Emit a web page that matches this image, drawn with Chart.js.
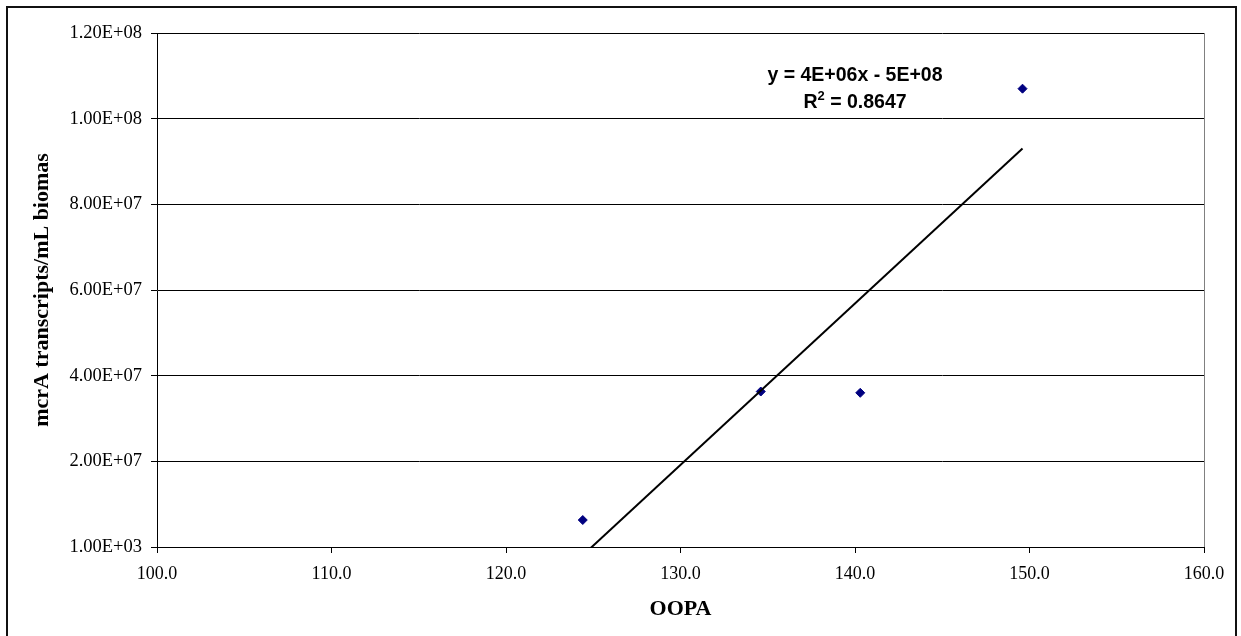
<!DOCTYPE html>
<html>
<head>
<meta charset="utf-8">
<script src="https://cdn.jsdelivr.net/npm/chart.js@4/dist/chart.umd.min.js"></script>
<style>
  html, body { margin: 0; padding: 0; background: #fff; }
  canvas { display: block; }
</style>
</head>
<body>
<canvas id="chart" width="1241" height="636"></canvas>
<script>
// OOPA vs mcrA transcripts
const oopa = [124.4, 134.6, 140.3, 149.6];
const mcra = [6.3e6, 3.63e7, 3.6e7, 1.07e8];

const xTicks = [100, 110, 120, 130, 140, 150, 160];
const yMin = 1000;
const yMax = 1.2e8;
const yStep = 2e7;

const eqText = 'y = 4E+06x - 5E+08';
const r2Text = ' = 0.8647';

// least squares line, same as the excel trendline
function linearFit(xs, ys) {
    const n = xs.length;
    const mx = xs.reduce((a, b) => a + b, 0) / n;
    const my = ys.reduce((a, b) => a + b, 0) / n;
    let sxy = 0, sxx = 0;
    for (let i = 0; i < n; i++) {
        sxy += (xs[i] - mx) * (ys[i] - my);
        sxx += (xs[i] - mx) * (xs[i] - mx);
    }
    const slope = sxy / sxx;
    return { slope: slope, intercept: my - slope * mx };
}

const fit = linearFit(oopa, mcra);
const xLo = Math.min(...oopa);
const xHi = Math.max(...oopa);
const trend = [
    { x: xLo, y: fit.slope * xLo + fit.intercept },
    { x: xHi, y: fit.slope * xHi + fit.intercept }
];

function sci(v) {
    const parts = v.toExponential(2).split('e');
    const e = parseInt(parts[1], 10);
    return parts[0] + 'E' + (e < 0 ? '-' : '+') + String(Math.abs(e)).padStart(2, '0');
}

const eqFont = 'bold 19.5px "Liberation Sans", Arial, sans-serif';
const supFont = 'bold 13px "Liberation Sans", Arial, sans-serif';

const frame = {
    id: 'frame',
    beforeDraw(chart) {
        const c = chart.ctx;
        c.save();
        c.fillStyle = '#fff';
        c.fillRect(0, 0, chart.width, chart.height);
        c.strokeStyle = '#111';
        c.lineWidth = 2;
        c.strokeRect(7, 7, 1229, 700);
        c.restore();
    },
    afterDraw(chart) {
        const c = chart.ctx;
        c.save();
        c.fillStyle = '#000';
        c.textBaseline = 'middle';
        c.font = eqFont;
        c.textAlign = 'center';
        c.fillText(eqText, 855, 76);

        // R^2 line with superscript
        c.textAlign = 'left';
        const wR = c.measureText('R').width;
        const wRest = c.measureText(r2Text).width;
        c.font = supFont;
        const w2 = c.measureText('2').width;
        let x = 855 - (wR + w2 + wRest) / 2;
        c.font = eqFont;
        c.fillText('R', x, 103);
        x += wR;
        c.font = supFont;
        c.fillText('2', x, 96);
        x += w2;
        c.font = eqFont;
        c.fillText(r2Text, x, 103);
        c.restore();
    }
};

const ctx = document.getElementById('chart').getContext('2d');

const chart = new Chart(ctx, {
    type: 'scatter',
    data: {
        datasets: [{
            label: 'trend',
            data: trend,
            showLine: true,
            borderColor: '#000',
            borderWidth: 2,
            pointRadius: 0,
            clip: 0
        }, {
            label: 'mcrA',
            data: oopa.map((x, i) => ({ x: x, y: mcra[i] })),
            pointStyle: 'rectRot',
            pointRadius: 4.5,
            backgroundColor: '#000080',
            borderColor: '#000080',
            borderWidth: 1
        }]
    },
    options: {
        responsive: false,
        animation: false,
        events: [],
        layout: {
            padding: { left: 0, top: 33, right: 37, bottom: 0 }
        },
        plugins: {
            legend: { display: false },
            tooltip: { enabled: false }
        },
        scales: {
            x: {
                type: 'linear',
                min: xTicks[0],
                max: xTicks[xTicks.length - 1],
                afterBuildTicks: (s) => { s.ticks = xTicks.map(v => ({ value: v })); },
                afterFit: (s) => { s.height = 89; },
                ticks: {
                    callback: (v) => Number(v).toFixed(1),
                    color: '#000',
                    padding: 10,
                    maxRotation: 0,
                    font: { family: '"Liberation Serif", "Times New Roman", serif', size: 18 }
                },
                grid: {
                    color: (c) => (c.tick && c.tick.value === 160) ? '#808080' : 'rgba(0,0,0,0)',
                    tickColor: '#000',
                    tickLength: 6,
                    lineWidth: 1
                },
                border: { display: true, color: '#000', width: 1 },
                title: {
                    display: true,
                    text: 'OOPA',
                    color: '#000',
                    padding: { top: 0, bottom: 13 },
                    font: { family: '"Liberation Serif", "Times New Roman", serif', size: 22, weight: 'bold' }
                }
            },
            y: {
                type: 'linear',
                min: yMin,
                max: yMax,
                afterFit: (s) => { s.width = 157; },
                ticks: {
                    stepSize: yStep,
                    callback: (v) => sci(v),
                    color: '#000',
                    padding: 9,
                    font: { family: '"Liberation Serif", "Times New Roman", serif', size: 18.5 }
                },
                grid: {
                    color: '#000',
                    tickColor: '#000',
                    tickLength: 6,
                    lineWidth: 1
                },
                border: { display: true, color: '#000', width: 1 },
                title: {
                    display: true,
                    text: 'mcrA transcripts/mL biomas',
                    color: '#000',
                    padding: { top: 29, bottom: 0 },
                    font: { family: '"Liberation Serif", "Times New Roman", serif', size: 22, weight: 'bold' }
                }
            }
        }
    },
    plugins: [frame]
});
</script>
</body>
</html>
